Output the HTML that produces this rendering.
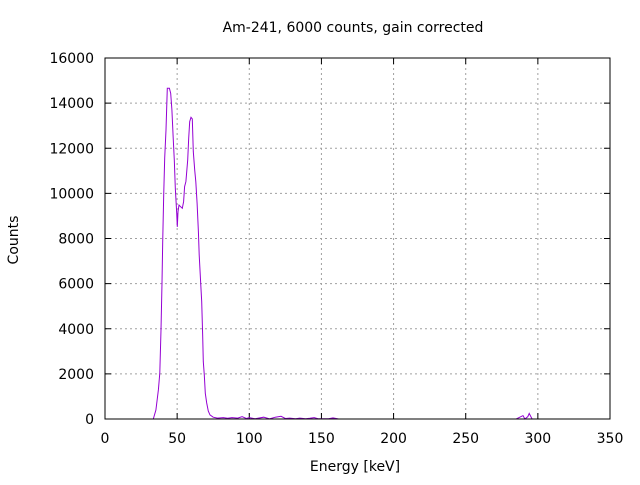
<!DOCTYPE html>
<html><head><meta charset="utf-8"><style>
body{margin:0;background:#fff}
svg text{font-family:"DejaVu Sans","Liberation Sans",sans-serif;font-size:14px;fill:#000}
</style></head><body>
<svg id="chart" width="640" height="480" xmlns="http://www.w3.org/2000/svg">
<rect width="640" height="480" fill="#fff"/>
<text x="353" y="32" text-anchor="middle">Am-241, 6000 counts, gain corrected</text>
<text x="355" y="471" text-anchor="middle">Energy [keV]</text>
<text transform="translate(18,240) rotate(-90)" text-anchor="middle">Counts</text>
<g id="grid"></g><g id="ticks"></g>
<polyline id="series" fill="none" stroke="#9400d3" stroke-width="1"/>
<rect x="105" y="58" width="505" height="361" fill="none" stroke="#000" stroke-width="1"/>
</svg>
<script>
const xTicks=[0,50,100,150,200,250,300,350];
const yTicks=[0,2000,4000,6000,8000,10000,12000,14000,16000];
const energy=[0,33.5,35.3,37,38,38.8,39.5,40,40.7,41.4,42.3,43.2,44.6,45.5,46.4,47.3,48,48.7,49.7,50.1,50.6,51.3,52.4,53.6,54.5,55.2,56.1,57.3,58,58.7,59.6,60.5,61.2,62.2,62.9,63.8,64.7,65.3,66.3,67,67.7,68.1,68.8,69.5,70.5,71.6,72.8,75,78,82,85,88,92,95,98,100,104,110,114,118,122,125,128,132,135,139,142,145,148,155,158,162,200,285,289.7,291,293,294,296,340];
const counts=[0,0,400,1300,2040,3950,6030,7860,9930,11570,12810,14660,14660,14430,13700,12450,11480,10240,9130,8520,9190,9480,9410,9340,9630,10300,10520,11480,12450,13180,13370,13300,11850,11040,10520,9560,8300,7270,6010,5200,3650,2540,1950,1140,710,350,180,80,40,60,30,60,40,100,20,60,10,80,10,80,120,20,40,10,40,10,30,60,10,10,50,0,0,0,150,0,100,250,0,0];
const X=v=>105+v/350*505, Y=v=>419-v/16000*361;
const ns="http://www.w3.org/2000/svg";
const grid=document.getElementById('grid'), tk=document.getElementById('ticks');
function ln(p,x1,y1,x2,y2,st,da){const l=document.createElementNS(ns,'line');l.setAttribute('x1',x1);l.setAttribute('y1',y1);l.setAttribute('x2',x2);l.setAttribute('y2',y2);l.setAttribute('stroke',st);if(da)l.setAttribute('stroke-dasharray',da);p.appendChild(l);return l;}
function tx(x,y,s,a){const t=document.createElementNS(ns,'text');t.setAttribute('x',x);t.setAttribute('y',y);t.setAttribute('text-anchor',a);t.textContent=s;tk.appendChild(t);return t;}
xTicks.forEach(v=>{const x=X(v);
 if(v>0&&v<350){const g=ln(grid,x,58,x,419,'#a0a0a0','2,3');
 
 }
 ln(tk,x,419,x,413,'#000');ln(tk,x,58,x,64,'#000');
 const t=tx(x,443,String(v),'middle');
 
 });
yTicks.forEach(v=>{const y=Y(v);
 if(v>0&&v<16000){const g=ln(grid,105,y,610,y,'#a0a0a0','2,3');
 
 }
 ln(tk,105,y,111,y,'#000');ln(tk,610,y,604,y,'#000');
 const t=tx(94,y+5,String(v),'end');
 
 });
document.getElementById('series').setAttribute('points',energy.map((e,i)=>X(e).toFixed(1)+','+Y(counts[i]).toFixed(1)).join(' '));
</script>
</body></html>
